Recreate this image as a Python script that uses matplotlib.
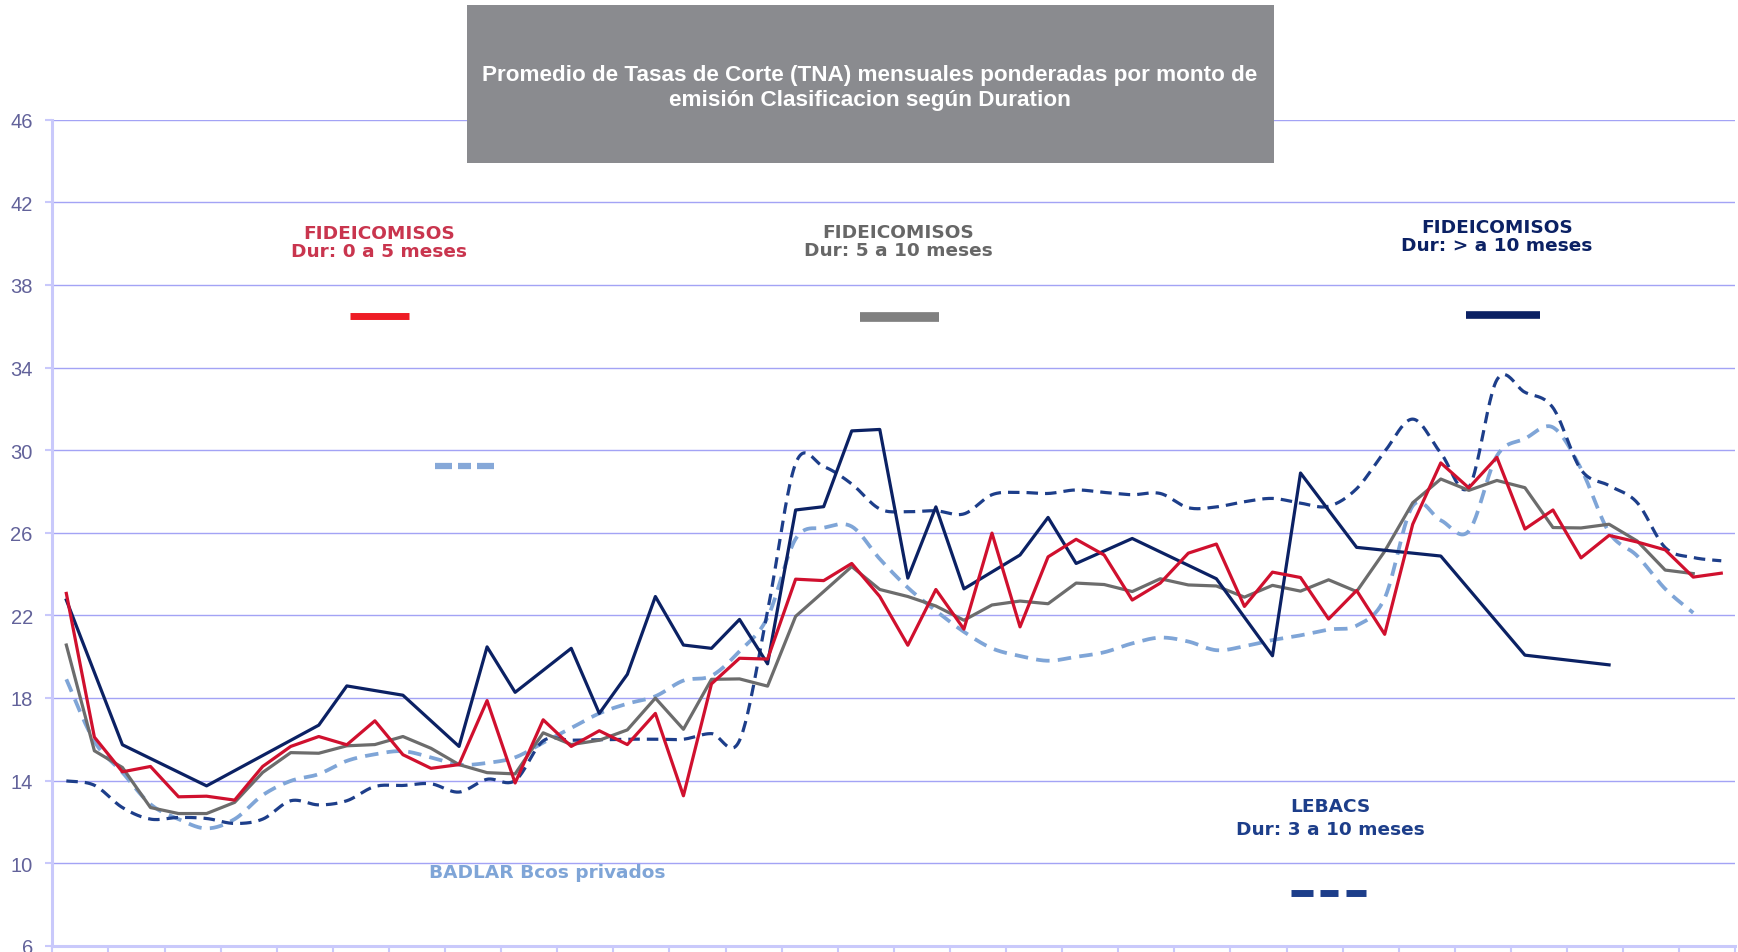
import numpy as np
import matplotlib
matplotlib.use("Agg")
import matplotlib.pyplot as plt
from matplotlib.lines import Line2D
from matplotlib.patches import Rectangle

nan = np.nan

# monthly values (60 months)
fid_0_5 = [23.06, 16.10, 14.42, 14.68, 13.21, 13.24, 13.05, 14.68, 15.65, 16.13,
           15.73, 16.89, 15.25, 14.59, 14.77, 17.87, 13.88, 16.94, 15.65, 16.41,
           15.74, 17.25, 13.26, 18.68, 19.92, 19.88, 23.75, 23.68, 24.51, 22.91,
           20.55, 23.25, 21.33, 25.98, 21.44, 24.83, 25.68, 24.92, 22.74, 23.56,
           25.01, 25.45, 22.43, 24.09, 23.83, 21.82, 23.20, 21.08, 26.41, 29.38,
           28.17, 29.65, 26.18, 27.10, 24.78, 25.87, 25.55, 25.17, 23.85, 24.04]

fid_5_10 = [20.56, 15.44, 14.63, 12.69, 12.40, 12.40, 12.94, 14.39, 15.35, 15.32,
            15.68, 15.74, 16.13, 15.56, 14.77, 14.38, 14.32, 16.31, 15.74, 15.95,
            16.45, 17.99, 16.48, 18.90, 18.92, 18.57, 21.95, 23.15, 24.36, 23.25,
            22.91, 22.45, 21.76, 22.50, 22.69, 22.56, 23.56, 23.49, 23.15, 23.77,
            23.47, 23.42, 22.88, 23.45, 23.17, 23.72, 23.15, 25.10, 27.45, 28.60,
            28.05, 28.53, 28.18, 26.25, 26.23, 26.41, 25.60, 24.19, 24.02, nan]

# long-duration trusts: months without issues are empty
fid_10_mas = [22.74, nan, 15.73, nan, nan, 13.74, nan, nan, nan, 16.68,
              18.58, nan, 18.13, nan, 15.65, 20.47, 18.27, nan, 20.40, 17.25,
              19.14, 22.91, 20.56, 20.40, 21.80, 19.65, 27.10, 27.26, 30.93, 31.00,
              23.80, 27.25, 23.28, nan, 24.92, 26.74, 24.51, nan, 25.72, nan,
              nan, 23.77, nan, 20.04, 28.89, nan, 25.29, nan, nan, 24.87,
              nan, nan, 20.07, nan, nan, 19.60, nan, nan, nan, nan]

badlar = [18.90, 15.90, 14.39, 12.85, 12.13, 11.68, 12.13, 13.29, 13.98, 14.31,
          14.95, 15.27, 15.42, 15.12, 14.77, 14.85, 15.12, 15.83, 16.54, 17.25,
          17.72, 18.08, 18.84, 19.07, 20.26, 21.90, 25.70, 26.24, 26.30, 24.73,
          23.34, 22.22, 21.20, 20.40, 20.03, 19.80, 19.99, 20.21, 20.64, 20.92,
          20.73, 20.31, 20.50, 20.80, 21.03, 21.31, 21.50, 22.83, 27.30, 26.60,
          26.08, 29.72, 30.55, 31.10, 29.10, 26.02, 24.88, 23.28, 22.12, nan]

lebacs = [13.98, 13.77, 12.69, 12.13, 12.21, 12.16, 11.92, 12.13, 13.02, 12.82,
          13.02, 13.71, 13.76, 13.84, 13.44, 14.06, 14.00, 15.92, 15.95, 15.97,
          16.00, 16.00, 16.00, 16.27, 15.94, 22.20, 29.35, 29.20, 28.36, 27.15,
          27.02, 27.06, 26.91, 27.84, 27.95, 27.90, 28.07, 27.95, 27.84, 27.90,
          27.21, 27.25, 27.50, 27.66, 27.43, 27.28, 28.13, 29.93, 31.50, 29.86,
          28.20, 33.40, 32.80, 32.05, 29.05, 28.28, 27.46, 25.28, 24.80, 24.64]

y_ticks = list(range(6, 47, 4))

W, H = 1738, 953


def smooth(x, y, n=24):
    # excel style smoothed line (catmull-rom bezier)
    P = np.column_stack([x, y])
    P = np.vstack([P[0], P, P[-1]])
    t = np.linspace(0, 1, n, endpoint=False)[:, None]
    out = []
    for k in range(1, len(P) - 2):
        p0, p1, p2, p3 = P[k - 1], P[k], P[k + 1], P[k + 2]
        c1 = p1 + (p2 - p0) / 6
        c2 = p2 - (p3 - p1) / 6
        out.append((1 - t)**3 * p1 + 3 * (1 - t)**2 * t * c1 + 3 * (1 - t) * t**2 * c2 + t**3 * p2)
    out.append(P[-2][None])
    s = np.vstack(out)
    return s[:, 0], s[:, 1]


def valid(vals):
    v = np.array(vals, dtype=float)
    x = np.arange(len(v))
    m = ~np.isnan(v)
    return x[m], v[m]


def fx(px):
    return px / W


def fy(py):
    return 1 - py / H


fig = plt.figure(figsize=(W / 100, H / 100), dpi=100)
ax = fig.add_axes([fx(52.3), fy(946.7), (1735.3 - 52.3) / W, (946.7 - 120.7) / H])

grid_c = '#A3A3F5'
axis_c = '#C9C9FB'

ax.set_ylim(6, 46)
ax.set_xlim(-0.5, len(fid_0_5) - 0.5)
ax.set_yticks(y_ticks)
ax.set_xticks(np.arange(-0.5, len(fid_0_5), 2))
ax.set_xticklabels([])
for v in y_ticks:
    ax.axhline(v, color=grid_c, lw=1.0, zorder=0.5)
for s in ['top', 'right']:
    ax.spines[s].set_visible(False)
for s in ['left', 'bottom']:
    ax.spines[s].set_color(axis_c)
    ax.spines[s].set_linewidth(2.2)
ax.tick_params(axis='y', colors=axis_c, length=5, width=1.5, pad=9,
               labelcolor='#62629A', labelsize=14.5)
for t in ax.get_yticklabels():
    t.set_family('Liberation Sans')
ax.tick_params(axis='x', colors=axis_c, length=6, width=1.5)

lw = 2.3
x, y = smooth(*valid(badlar))
ax.plot(x, y, color='#7FA5D7', lw=lw + 0.4, dashes=(3.6, 2.2), zorder=2)
x, y = smooth(*valid(lebacs))
ax.plot(x, y, color='#1D3E8A', lw=lw, dashes=(3.6, 2.2), zorder=3)
ax.plot(*valid(fid_5_10), color='#6C6C6C', lw=lw, zorder=4)
ax.plot(*valid(fid_10_mas), color='#0B2164', lw=lw, zorder=5)
ax.plot(*valid(fid_0_5), color='#D0102E', lw=lw, zorder=6)

# title box
fig.patches.append(Rectangle((fx(466.6), fy(164)), (1273.6 - 466.6) / W, (164 - 5.5) / H,
                             transform=fig.transFigure, facecolor='#8A8B8F',
                             edgecolor='none', zorder=5))
fig.text(fx(870), fy(88),
         'Promedio de Tasas de Corte (TNA) mensuales ponderadas por monto de\n'
         'emisión Clasificacion según Duration',
         ha='center', va='center', color='white', fontsize=16.2, fontweight='bold',
         family='Liberation Sans', linespacing=1.22, zorder=6)

lab = dict(ha='center', va='center', fontsize=13.3, fontweight='bold',
           family='DejaVu Sans', zorder=6)
fig.text(fx(379), fy(243), 'FIDEICOMISOS\nDur: 0 a 5 meses', color='#C9354E',
         linespacing=1.0, **lab)
fig.text(fx(898), fy(242), 'FIDEICOMISOS\nDur: 5 a 10 meses', color='#676767',
         linespacing=1.0, **lab)
fig.text(fx(1497), fy(237), 'FIDEICOMISOS\nDur: > a 10 meses', color='#0B2164',
         linespacing=0.95, **lab)
fig.text(fx(1330), fy(818.5), 'LEBACS\nDur: 3 a 10 meses', color='#1D3E8A',
         linespacing=1.4, **lab)
fig.text(fx(429), fy(873), 'BADLAR Bcos privados', color='#7FA5D7', ha='left',
         va='center', fontsize=13.3, fontweight='bold', family='DejaVu Sans')


def key(x0, x1, ypx, color, width):
    fig.lines.append(Line2D([fx(x0), fx(x1)], [fy(ypx), fy(ypx)], transform=fig.transFigure,
                            color=color, lw=width, solid_capstyle='butt', zorder=6))


key(350, 409, 317, '#EE1C25', 5.0)
key(860, 939, 318, '#808080', 7.0)
key(1466, 1540, 316, '#0B2164', 5.5)
for a, b in [(435, 452), (458, 471), (477, 494)]:
    key(a, b, 467, '#86A8D8', 4.5)
for a, b in [(1291, 1313), (1320, 1338), (1346, 1366)]:
    key(a, b, 894, '#1D3E8A', 5.0)

fig.savefig('out.png', dpi=100)
